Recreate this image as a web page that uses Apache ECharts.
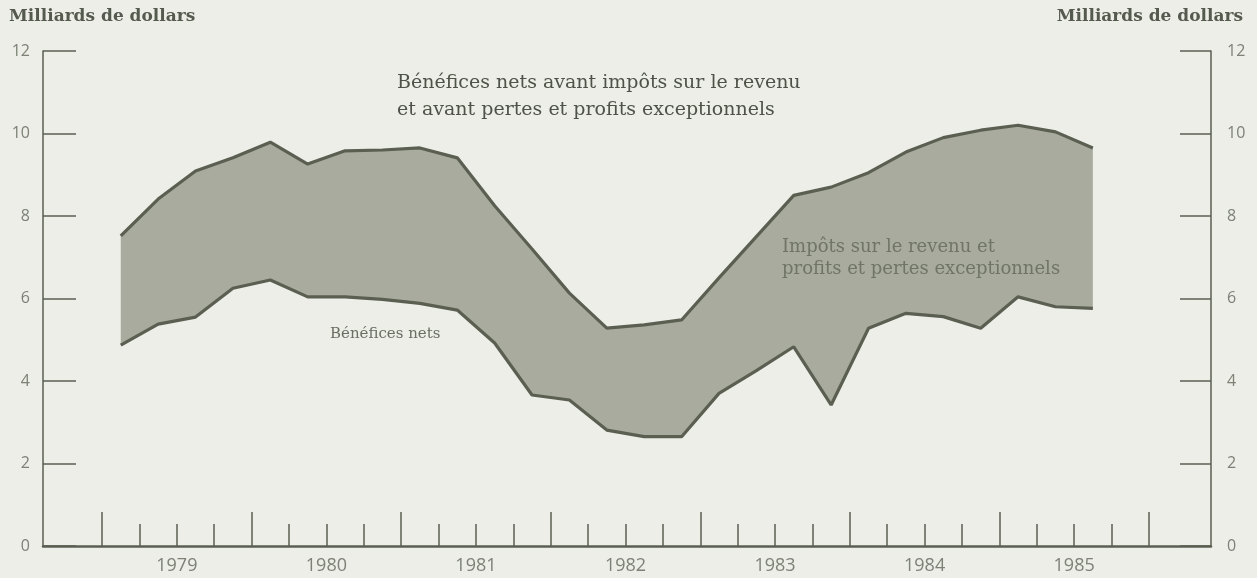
<!DOCTYPE html>
<html>
<head>
<meta charset="utf-8">
<script src="https://cdn.jsdelivr.net/npm/echarts@6/dist/echarts.min.js"></script>
<style>
  html, body { margin: 0; padding: 0; background: #eceee7; }
  #chart { width: 1257px; height: 578px; }
</style>
</head>
<body>
<div id="chart"></div>
<script>
// ---- Data (quarterly, 1979 T1 to 1985 T3), billions of dollars ----
const firstYear = 1979;
const yearLabels = ['1979', '1980', '1981', '1982', '1983', '1984', '1985'];
const yTickLabels = ['0', '2', '4', '6', '8', '10', '12'];
// Bénéfices nets avant impôts sur le revenu et avant pertes et profits exceptionnels
const beneficesAvantImpots = [7.52, 8.41, 9.09, 9.41, 9.79, 9.26, 9.58, 9.6, 9.65, 9.41,
  8.25, 7.2, 6.13, 5.28, 5.36, 5.48, 6.5, 7.5, 8.5, 8.7,
  9.05, 9.55, 9.9, 10.08, 10.2, 10.04, 9.65];
// Bénéfices nets
const beneficesNets = [4.87, 5.38, 5.55, 6.25, 6.45, 6.04, 6.04, 5.98, 5.88, 5.72,
  4.92, 3.66, 3.54, 2.81, 2.65, 2.65, 3.7, 4.25, 4.83, 3.42,
  5.28, 5.64, 5.56, 5.28, 6.04, 5.8, 5.76];

// ---- Build series points: each quarter is placed at its mid-point ----
const xOf = i => firstYear + (i + 0.5) / 4;
const lowerPts = beneficesNets.map((v, i) => [xOf(i), v]);
const upperPts = beneficesAvantImpots.map((v, i) => [xOf(i), v]);

const yearTicks = [];
for (let y = 0; y <= yearLabels.length; y++) yearTicks.push(firstYear + y);
const quarterTicks = [];
for (let y = 0; y < yearLabels.length; y++) for (let q = 1; q < 4; q++) quarterTicks.push(firstYear + y + q / 4);
const labelPos = yearLabels.map((_, i) => firstYear + i + 0.5);

const ink = '#5b5f52';
const labelInk = '#7d8176';
const xMin = 1978.605, xMax = 1986.415;

const chart = echarts.init(document.getElementById('chart'), null, { renderer: 'canvas' });
chart.setOption({
  backgroundColor: '#eceee7',
  animation: false,
  grid: { left: 43, right: 46, top: 51, bottom: 32 },
  xAxis: [
    {
      type: 'value', min: xMin, max: xMax, position: 'bottom',
      splitLine: { show: false },
      axisLine: { show: true, lineStyle: { color: ink, width: 2.5 } },
      axisTick: { show: true, inside: true, length: 34, customValues: yearTicks, lineStyle: { color: ink, width: 1.5 } },
      axisLabel: {
        customValues: labelPos, margin: 11, color: labelInk, fontSize: 18,
        fontFamily: 'Open Sans',
        formatter: v => yearLabels[Math.floor(v) - firstYear]
      }
    },
    {
      type: 'value', min: xMin, max: xMax, position: 'bottom',
      splitLine: { show: false },
      axisLine: { show: false },
      axisTick: { show: true, inside: true, length: 22, customValues: quarterTicks, lineStyle: { color: ink, width: 1.5 } },
      axisLabel: { show: false }
    }
  ],
  yAxis: [
    {
      type: 'value', min: 0, max: 12, interval: 2, position: 'left',
      splitLine: { show: false },
      axisLine: { show: true, lineStyle: { color: ink, width: 1.5 } },
      axisTick: { show: true, inside: true, length: 33, lineStyle: { color: ink, width: 1.5 } },
      axisLabel: { margin: 13, color: labelInk, fontSize: 16, fontFamily: 'Open Sans',
        formatter: v => yTickLabels[Math.round(v / 2)] }
    },
    {
      type: 'value', min: 0, max: 12, interval: 2, position: 'right',
      splitLine: { show: false },
      axisLine: { show: true, lineStyle: { color: ink, width: 1.5 } },
      axisTick: { show: true, inside: true, length: 31, lineStyle: { color: ink, width: 1.5 } },
      axisLabel: { margin: 16, color: labelInk, fontSize: 16, fontFamily: 'Open Sans',
        formatter: v => yTickLabels[Math.round(v / 2)] }
    }
  ],
  series: [
    {
      // shaded band between the two curves (taxes and extraordinary items)
      name: 'Impôts sur le revenu et profits et pertes exceptionnels',
      type: 'custom', xAxisIndex: 0, yAxisIndex: 0, z: 2,
      data: [[xOf(0), beneficesNets[0]]],
      renderItem: function (params, api) {
        const pts = [];
        upperPts.forEach(p => pts.push(api.coord(p)));
        for (let i = lowerPts.length - 1; i >= 0; i--) pts.push(api.coord(lowerPts[i]));
        return { type: 'polygon', shape: { points: pts }, style: { fill: '#a9ab9f', stroke: null } };
      }
    },
    {
      name: 'Bénéfices nets', type: 'line', data: lowerPts,
      xAxisIndex: 0, yAxisIndex: 0, symbol: 'none', z: 4,
      lineStyle: { color: ink, width: 3.2 }
    },
    {
      name: 'Bénéfices nets avant impôts', type: 'line', data: upperPts,
      xAxisIndex: 0, yAxisIndex: 0, symbol: 'none', z: 4,
      lineStyle: { color: ink, width: 3.2 }
    }
  ],
  graphic: [
    { type: 'text', left: 9, top: 8, z: 100, style: { text: 'Milliards de dollars', fill: '#555a4f',
      font: 'bold 17px "DejaVu Serif"' } },
    { type: 'text', right: 14, top: 8, z: 100, style: { text: 'Milliards de dollars', fill: '#555a4f',
      font: 'bold 17px "DejaVu Serif"' } },
    { type: 'text', left: 397, top: 70, z: 100, style: { text: 'Bénéfices nets avant impôts sur le revenu\net avant pertes et profits exceptionnels',
      fill: '#4e5248', font: '19px "DejaVu Serif"', lineHeight: 27 } },
    { type: 'text', left: 330, top: 327, z: 100, style: { text: 'Bénéfices nets', fill: '#6a6e63',
      font: '15px "DejaVu Serif"' } },
    { type: 'text', left: 782, top: 236, z: 100, style: { text: 'Impôts sur le revenu et\nprofits et pertes exceptionnels',
      fill: '#707468', font: '18px "DejaVu Serif"', lineHeight: 22 } }
  ]
});
</script>
</body>
</html>
